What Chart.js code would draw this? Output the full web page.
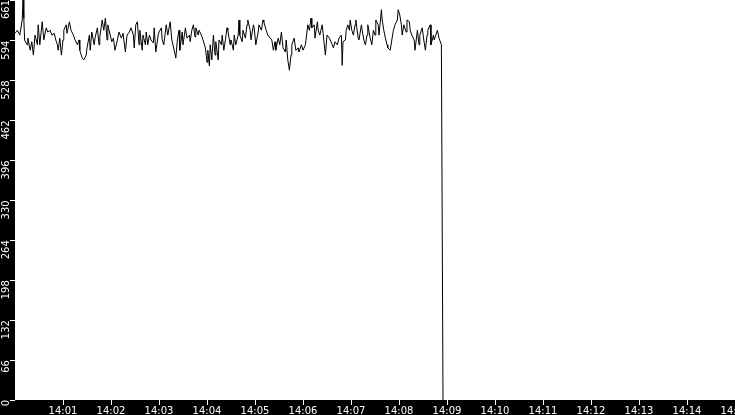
<!DOCTYPE html>
<html>
<head>
<meta charset="utf-8">
<script src="https://cdn.jsdelivr.net/npm/chart.js@4/dist/chart.umd.min.js"></script>
<style>
  html, body { margin: 0; padding: 0; background: #000; }
  canvas { display: block; }
</style>
</head>
<body>
<canvas id="rateChart" width="735" height="415"></canvas>
<script>
// seconds after 14:00:00
var times = [0,3,6,9,10,11,12,15,16,19,21,23,25,28,29,31,34,36,39,41,44,46,49,51,53,54,56,58,60,61,64,65,68,70,73,75,78,80,81,84,86,89,90,93,94,96,99,100,103,105,106,109,111,113,115,116,119,121,123,125,128,130,133,135,138,140,143,145,148,149,151,153,155,156,159,160,163,164,166,168,170,173,174,176,179,180,183,184,186,189,191,194,196,199,201,203,205,206,209,210,213,215,218,219,221,223,225,226,229,230,233,235,238,239,240,241,243,244,246,248,250,251,254,255,258,259,261,263,265,266,269,270,273,274,276,279,280,281,284,285,288,290,291,294,295,298,299,301,304,305,308,310,311,314,316,319,321,323,325,326,329,331,333,335,338,339,341,343,345,346,349,351,354,355,358,360,363,364,366,368,370,371,374,375,378,379,381,384,386,388,390,393,395,398,400,403,405,408,409,410,413,414,416,418,419,421,423,425,426,429,430,433,434,436,438,440,441,444,446,448,450,451,454,455,458,459,461,463,465,466,469,471,473,475,478,479,481,483,484,486,489,490,493,494,496,499,500,503,505,506,509,511,513,515,516,519,520,523,524,526,528,530,533,535];
var rate = [606,611,603,628,661,631,595,587,598,578,592,570,603,587,620,587,625,595,615,608,611,603,606,595,587,578,598,570,595,611,620,606,625,611,603,595,587,595,578,565,562,570,582,603,578,608,587,598,615,587,600,628,611,631,595,620,603,592,598,578,595,608,598,606,575,603,608,615,603,582,620,625,587,611,578,603,587,608,587,603,595,590,615,575,603,608,615,595,587,620,603,625,595,578,565,595,611,578,608,587,615,598,603,592,611,620,600,615,603,611,603,595,582,570,558,578,552,587,562,603,570,592,562,595,587,603,578,595,615,611,587,595,578,603,587,603,628,603,592,611,598,620,628,611,595,620,615,587,608,620,611,628,625,611,603,598,595,578,592,578,598,587,608,582,575,595,562,545,570,587,598,578,582,575,587,578,587,598,620,611,631,615,620,598,625,611,603,620,595,570,603,598,592,582,592,587,598,603,553,592,595,611,620,611,628,611,603,620,628,598,595,620,611,595,587,603,620,598,587,611,603,628,620,603,645,628,611,598,587,582,578,595,611,620,628,645,636,620,603,620,608,628,625,611,603,595,578,611,587,603,615,595,578,603,611,620,587,603,595,603,611,598,587,0];
var yTicks = [0,66,132,198,264,330,396,462,528,594,661];
var xTicks = [60,120,180,240,300,360,420,480,540,600,660,720,780,840,900];

var points = [];
for (var i = 0; i < times.length; i++) {
  points.push({x: times[i], y: rate[i]});
}

function clock(sec) {
  var m = Math.floor(sec / 60);
  return '14:' + (m < 10 ? '0' + m : m);
}

var backdrop = {
  id: 'backdrop',
  beforeDraw: function (chart) {
    var c = chart.ctx, a = chart.chartArea;
    c.save();
    c.fillStyle = '#000';
    c.fillRect(0, 0, chart.width, chart.height);
    c.fillStyle = '#fff';
    c.fillRect(a.left, a.top, a.right - a.left, a.bottom - a.top);
    c.restore();
  }
};

var ctx = document.getElementById('rateChart').getContext('2d');
var rateChart = new Chart(ctx, {
  type: 'line',
  data: {
    datasets: [{
      data: points,
      borderColor: '#000',
      borderWidth: 1,
      pointRadius: 0,
      tension: 0,
      fill: false
    }]
  },
  options: {
    responsive: false,
    animation: false,
    layout: { padding: 0 },
    plugins: { legend: { display: false }, tooltip: { enabled: false } },
    scales: {
      x: {
        type: 'linear',
        min: 0,
        max: 900,
        afterBuildTicks: function (s) { s.ticks = xTicks.map(function (v) { return {value: v}; }); },
        afterFit: function (s) { s.height = 15; s.paddingLeft = 0; s.paddingRight = 0; },
        grid: { drawOnChartArea: false, color: '#fff', tickLength: 5, tickWidth: 1 },
        border: { display: false },
        ticks: {
          color: '#fff',
          padding: 0,
          maxRotation: 0,
          autoSkip: false,
          font: { family: 'DejaVu Sans', size: 10 },
          callback: function (v) { return clock(v); }
        }
      },
      y: {
        min: 0,
        max: 661,
        afterBuildTicks: function (s) { s.ticks = yTicks.map(function (v) { return {value: v}; }); },
        afterFit: function (s) { s.width = 15; s.paddingTop = 0; s.paddingBottom = 0; },
        grid: { drawOnChartArea: false, color: '#fff', tickLength: 5, tickWidth: 1 },
        border: { display: false },
        ticks: {
          color: '#fff',
          padding: 4,
          minRotation: 90,
          maxRotation: 90,
          autoSkip: false,
          font: { family: 'DejaVu Sans', size: 10 }
        }
      }
    }
  },
  plugins: [backdrop]
});
</script>
</body>
</html>
